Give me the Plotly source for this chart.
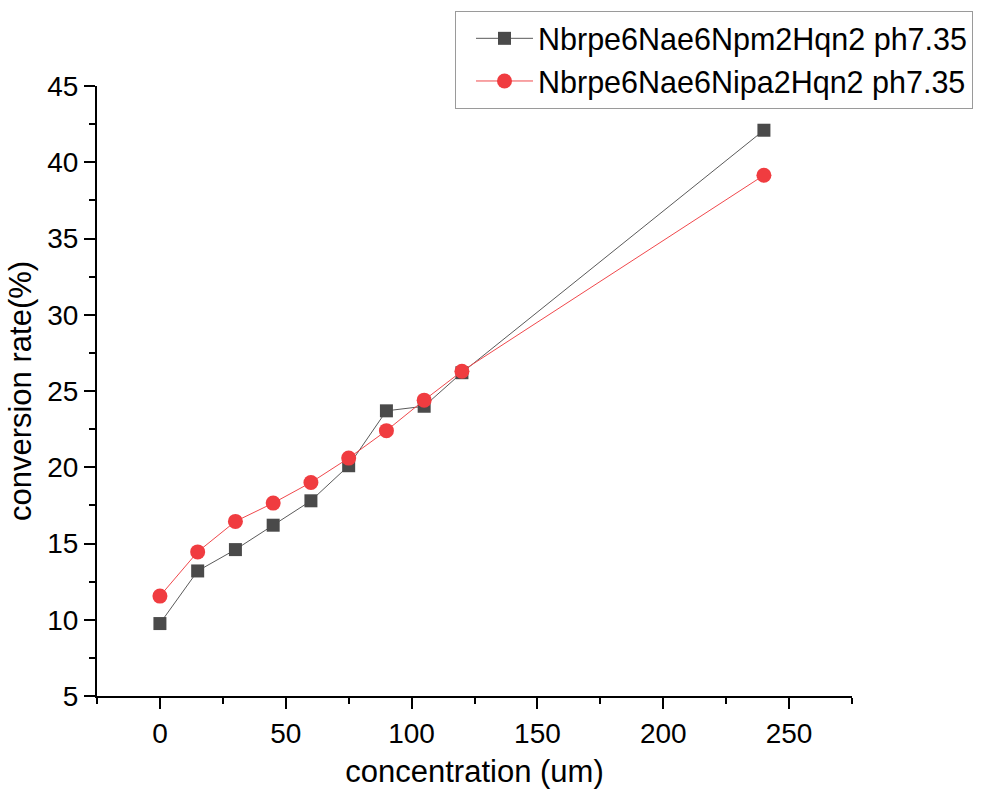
import plotly.graph_objects as go

concentration = [0, 15, 30, 45, 60, 75, 90, 105, 120, 240]
npm_rate = [9.75, 13.2, 14.6, 16.2, 17.8, 20.1, 23.7, 24.0, 26.2, 42.1]
ipa_rate = [11.55, 14.45, 16.45, 17.65, 19.0, 20.6, 22.4, 24.4, 26.3, 39.15]
series_names = ["Nbrpe6Nae6Npm2Hqn2 ph7.35", "Nbrpe6Nae6Nipa2Hqn2 ph7.35"]

FONT = "Arial, Liberation Sans, sans-serif"

fig = go.Figure()
fig.add_trace(go.Scatter(
    x=concentration, y=npm_rate, name=series_names[0], mode="lines+markers",
    line=dict(color="#5a5a5a", width=1),
    marker=dict(symbol="square", size=13, color="#4a4a4a"),
))
fig.add_trace(go.Scatter(
    x=concentration, y=ipa_rate, name=series_names[1], mode="lines+markers",
    line=dict(color="#f0484c", width=1),
    marker=dict(symbol="circle", size=15, color="#f03c40"),
))

axis_common = dict(
    showline=True, linecolor="black", linewidth=2,
    ticks="outside", ticklen=11, tickwidth=2, tickcolor="black",
    showgrid=False, zeroline=False, mirror=False, automargin=False,
    tickfont=dict(family=FONT, size=28, color="black"),
)

fig.update_xaxes(
    range=[-25, 275], tick0=0, dtick=50,
    minor=dict(ticks="outside", ticklen=6, tickwidth=2, tickcolor="black", dtick=25, tick0=0, showgrid=False),
    title=dict(text="concentration (um)", font=dict(family=FONT, size=31, color="black"), standoff=20),
    **axis_common,
)
fig.update_yaxes(
    range=[5, 45], tick0=5, dtick=5,
    minor=dict(ticks="outside", ticklen=6, tickwidth=2, tickcolor="black", dtick=2.5, tick0=5, showgrid=False),
    title=dict(text="conversion rate(%)", font=dict(family=FONT, size=31, color="black"), standoff=6),
    **axis_common,
)

fig.update_layout(
    width=988, height=789,
    margin=dict(l=97, r=136, t=85, b=93),
    paper_bgcolor="white", plot_bgcolor="white",
    showlegend=True,
    legend=dict(
        x=(455 - 97) / 755, y=(696 - 11) / 611, xanchor="left", yanchor="top",
        bgcolor="white", bordercolor="#9a9a9a", borderwidth=1,
        font=dict(family=FONT, size=30.5, color="black"),
        itemwidth=57, indentation=15, tracegroupgap=0,
    ),
)

fig.write_html("out.html")
